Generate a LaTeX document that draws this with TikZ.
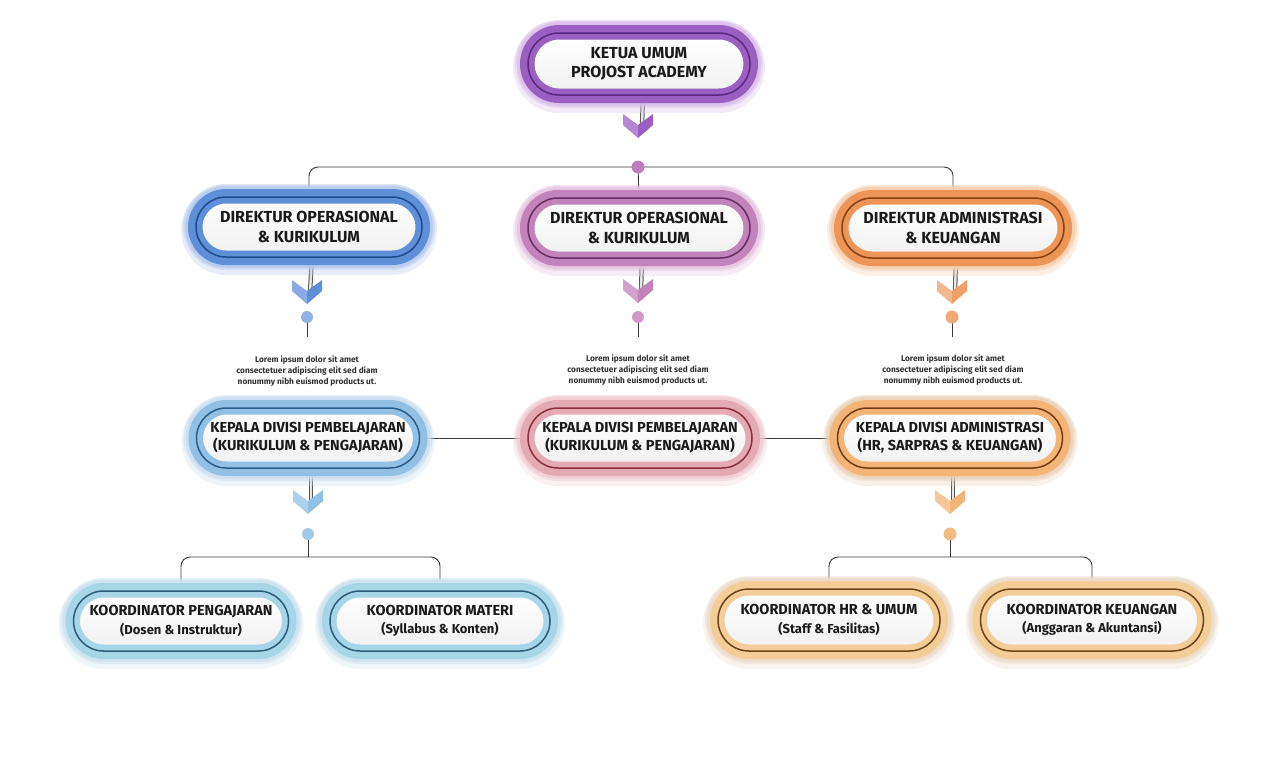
\documentclass[tikz,border=0pt]{standalone}
\usepackage{fontspec}
\setmainfont{Fira Sans}
\usetikzlibrary{shapes.misc}
\pgfdeclarelayer{bg}
\pgfsetlayers{bg,main}
% colours
\definecolor{txt}{HTML}{1A1A1A}
\definecolor{pGlow}{HTML}{D9BCEA}\definecolor{pRing}{HTML}{9B5FC2}\definecolor{pDark}{HTML}{5A2780}
\definecolor{bGlow}{HTML}{B3C8EC}\definecolor{bRing}{HTML}{5F8FD8}\definecolor{bDark}{HTML}{1F4C90}
\definecolor{mGlow}{HTML}{E5C2E1}\definecolor{mRing}{HTML}{C282BA}\definecolor{mDark}{HTML}{6B2C62}
\definecolor{oGlow}{HTML}{F6CDAA}\definecolor{oRing}{HTML}{EC9556}\definecolor{oDark}{HTML}{86400F}
\definecolor{kbGlow}{HTML}{C6DDF1}\definecolor{kbRing}{HTML}{92C0E4}\definecolor{kbDark}{HTML}{2B5D8C}
\definecolor{kpGlow}{HTML}{EFCBD1}\definecolor{kpRing}{HTML}{E3AAB3}\definecolor{kpDark}{HTML}{8C2E3E}
\definecolor{koGlow}{HTML}{EAD0B8}\definecolor{koRing}{HTML}{F2B577}\definecolor{koDark}{HTML}{743A10}
\definecolor{cbGlow}{HTML}{CAE2EC}\definecolor{cbRing}{HTML}{A5D5E7}\definecolor{cbDark}{HTML}{2C5D78}
\definecolor{coGlow}{HTML}{EBD9C6}\definecolor{coRing}{HTML}{F2CD98}\definecolor{coDark}{HTML}{6B4217}
\definecolor{lineC}{HTML}{3A3A3A}
\tikzset{
  pill/.style n args={3}{rounded rectangle, align=center, text=txt, inner sep=0pt,
    preaction={draw=#1, line width=30pt, opacity=.3, transform canvas={yshift=-3pt}},
    preaction={draw=#1, line width=26pt, opacity=.45},
    preaction={draw=#1, line width=22pt, opacity=.7},
    preaction={draw=#2, line width=16pt},
    top color=white, bottom color=black!6,
    postaction={draw=#2, line width=13pt},
    postaction={draw=#3, line width=1.5pt}},
  fTop/.style={font=\fontsize{16}{18.5}\selectfont\bfseries},
  fDir/.style={font=\fontsize{16}{20}\selectfont\bfseries},
  fKep/.style={font=\fontsize{14.5}{18}\selectfont\bfseries},
  fKor/.style={font=\fontsize{14.5}{18.5}\selectfont\bfseries},
  conn/.style={draw=lineC, line width=0.9pt},
  stem/.style={draw=gray!70!black, double=gray!20, double distance=2.4pt, line width=1pt},
  lorem/.style={align=center, text=black!80, font=\fontsize{8.3}{11}\selectfont\bfseries},
}
\newcommand\chev[2]{%
  \fill[#2!75!white, shift={(#1)}] (-15,-12) -- (0,-1) -- (0,12) -- (-15,-1) -- cycle;
  \fill[#2, shift={(#1)}] (0,-1) -- (15,-12) -- (15,-1) -- (0,12) -- cycle;}
\begin{document}
\begin{tikzpicture}[x=1pt,y=-1pt]
\useasboundingbox (0,0) rectangle (1276,782);
\begin{pgfonlayer}{bg}
\fill[white] (0,0) rectangle (1276,782);
\end{pgfonlayer}
% ---- boxes
\node[pill={pGlow}{pRing}{pDark}, fTop, minimum width=222, minimum height=62] (ketua) at (639,64) {KETUA UMUM\\PROJOST ACADEMY};
\node[pill={bGlow}{bRing}{bDark}, fDir, minimum width=226, minimum height=60] (dirB) at (309,227) {DIREKTUR OPERASIONAL\\\& KURIKULUM};
\node[pill={mGlow}{mRing}{mDark}, fDir, minimum width=222, minimum height=60] (dirP) at (639,228) {DIREKTUR OPERASIONAL\\\& KURIKULUM};
\node[pill={oGlow}{oRing}{oDark}, fDir, minimum width=222, minimum height=60] (dirO) at (953,228) {DIREKTUR ADMINISTRASI\\\& KEUANGAN};
\node[pill={kbGlow}{kbRing}{kbDark}, fKep, minimum width=223, minimum height=60] (kepB) at (308,438) {KEPALA DIVISI PEMBELAJARAN\\(KURIKULUM \& PENGAJARAN)};
\node[pill={kpGlow}{kpRing}{kpDark}, fKep, minimum width=224, minimum height=60] (kepP) at (640,438) {KEPALA DIVISI PEMBELAJARAN\\(KURIKULUM \& PENGAJARAN)};
\node[pill={koGlow}{koRing}{koDark}, fKep, minimum width=225, minimum height=60] (kepO) at (950,438) {KEPALA DIVISI ADMINISTRASI\\(HR, SARPRAS \& KEUANGAN)};
\node[pill={cbGlow}{cbRing}{cbDark}, fKor, minimum width=215, minimum height=60] (korB1) at (181,621) {KOORDINATOR PENGAJARAN\\{\fontsize{13}{16}\selectfont (Dosen \& Instruktur)}};
\node[pill={cbGlow}{cbRing}{cbDark}, fKor, minimum width=220, minimum height=60] (korB2) at (440,621) {KOORDINATOR MATERI\\{\fontsize{13}{16}\selectfont (Syllabus \& Konten)}};
\node[pill={coGlow}{coRing}{coDark}, fKor, minimum width=222, minimum height=62] (korO1) at (829,620) {KOORDINATOR HR \& UMUM\\{\fontsize{13}{16}\selectfont (Staff \& Fasilitas)}};
\node[pill={coGlow}{coRing}{coDark}, fKor, minimum width=223, minimum height=62] (korO2) at (1092,620) {KOORDINATOR KEUANGAN\\{\fontsize{13}{16}\selectfont (Anggaran \& Akuntansi)}};
% ---- lorem texts
\node[lorem] (lorB) at (307,371) {Lorem ipsum dolor sit amet\\consectetuer adipiscing elit sed diam\\nonummy nibh euismod products ut.};
\node[lorem] (lorP) at (638,370) {Lorem ipsum dolor sit amet\\consectetuer adipiscing elit sed diam\\nonummy nibh euismod products ut.};
\node[lorem] (lorO) at (953,370) {Lorem ipsum dolor sit amet\\consectetuer adipiscing elit sed diam\\nonummy nibh euismod products ut.};
% ---- coordinates
\coordinate (chK) at (638,126);
\coordinate (chDB) at (307,292);
\coordinate (chDP) at (638,291);
\coordinate (chDO) at (952,292);
\coordinate (chKB) at (308,502);
\coordinate (chKO) at (950,502);
\coordinate (dotK) at (638,167);
\coordinate (dotDB) at (307,317);
\coordinate (dotDP) at (638,317);
\coordinate (dotDO) at (952,317);
\coordinate (dotKB) at (308,534);
\coordinate (dotKO) at (950,534);
\coordinate (eDB) at (307,337);
\coordinate (eDP) at (638,337);
\coordinate (eDO) at (952,337);
\coordinate (jKB) at (308,557);
\coordinate (jKO) at (950,557);
% ---- connectors (behind boxes)
\begin{pgfonlayer}{bg}
\draw[conn, rounded corners=9] (dirB.north) |- (dotK) -| (dirO.north);
\draw[conn] (dotK) -- (dirP.north);
\draw[stem] ([xshift=4pt]ketua.south) -- ([xshift=4pt]chK);
\draw[stem] ([xshift=3pt]dirB.south) -- ([xshift=3pt]chDB);
\draw[stem] ([xshift=3pt]dirP.south) -- ([xshift=3pt]chDP);
\draw[stem] ([xshift=3pt]dirO.south) -- ([xshift=3pt]chDO);
\draw[stem] ([xshift=3pt]kepB.south) -- ([xshift=3pt]chKB);
\draw[stem] ([xshift=3pt]kepO.south) -- ([xshift=3pt]chKO);
\draw[conn] (dotDB) -- (eDB);
\draw[conn] (dotDP) -- (eDP);
\draw[conn] (dotDO) -- (eDO);
\draw[conn] (kepB.east) -- (kepP.west);
\draw[conn] (kepP.east) -- (kepO.west);
\draw[conn] (dotKB) -- (jKB);
\draw[conn] (dotKO) -- (jKO);
\draw[conn, rounded corners=9] (korB1.north) |- (jKB) -| (korB2.north);
\draw[conn, rounded corners=9] (korO1.north) |- (jKO) -| (korO2.north);
\end{pgfonlayer}
% ---- chevrons
\chev{chK}{pRing}
\chev{chDB}{bRing}
\chev{chDP}{mRing}
\chev{chDO}{oRing!90!white}
\chev{chKB}{kbRing}
\chev{chKO}{koRing}
% ---- dots
\fill[mRing!85!pRing] (dotK) circle (6.5);
\fill[bRing!70!white] (dotDB) circle (6);
\fill[mRing!80!white] (dotDP) circle (6);
\fill[oRing!80!white] (dotDO) circle (6.5);
\fill[kbRing!85!white] (dotKB) circle (6);
\fill[koRing!90!white] (dotKO) circle (6.5);
\end{tikzpicture}
\end{document}
